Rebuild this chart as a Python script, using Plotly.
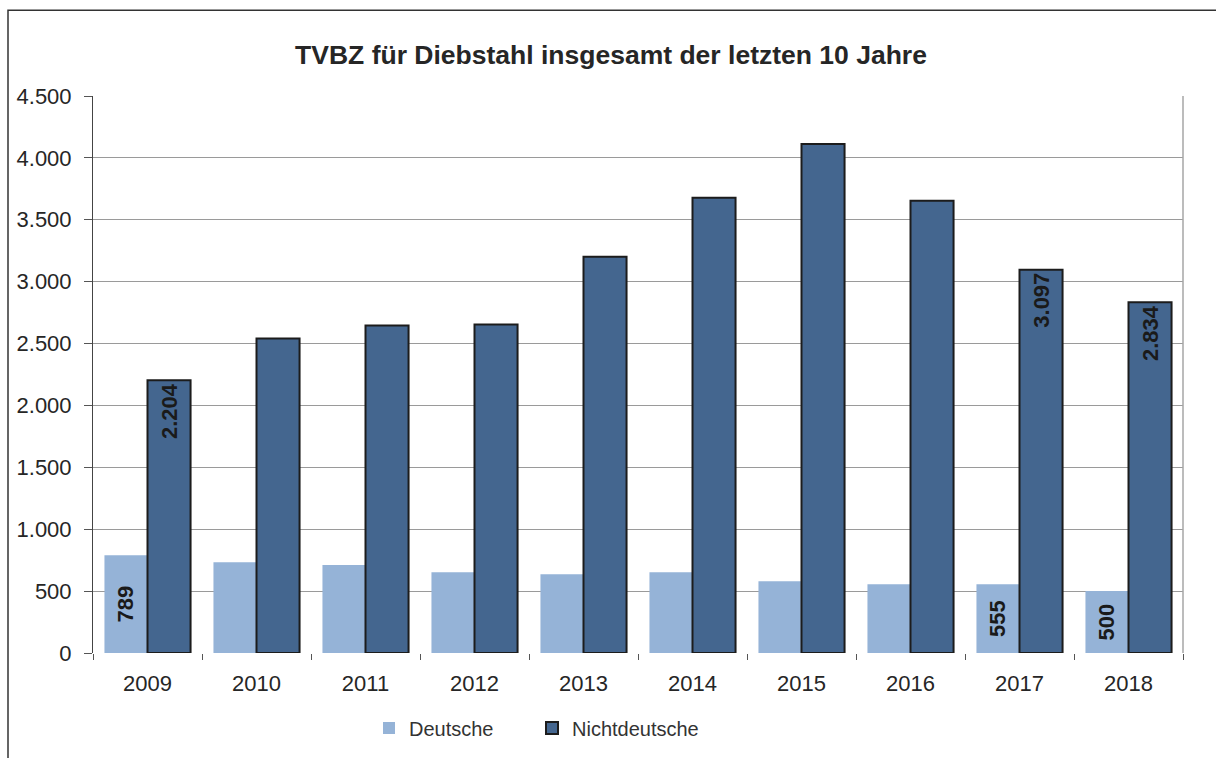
import plotly.graph_objects as go

# Tatverdächtigenbelastungszahl (TVBZ) für Diebstahl, 2009–2018
years = ["2009", "2010", "2011", "2012", "2013", "2014", "2015", "2016", "2017", "2018"]
deutsche = [789, 734, 710, 653, 637, 653, 580, 556, 555, 500]
nichtdeutsche = [2204, 2540, 2645, 2653, 3202, 3677, 4113, 3653, 3097, 2834]

# only some bars carry a value label
labelled_years = {"2009", "2017", "2018"}
y_ticks = [0, 500, 1000, 1500, 2000, 2500, 3000, 3500, 4000, 4500]
y_tick_text = ["0", "500", "1.000", "1.500", "2.000", "2.500", "3.000", "3.500", "4.000", "4.500"]


def de_fmt(v):
    return f"{v:,}".replace(",", ".")


def labels(values):
    return [de_fmt(v) if yr in labelled_years else "" for yr, v in zip(years, values)]


FONT = "Liberation Sans, Arial, sans-serif"

fig = go.Figure()
fig.add_trace(go.Bar(
    x=years, y=deutsche, name="Deutsche", legend="legend",
    marker=dict(color="#95b3d7", line=dict(width=0)),
    text=labels(deutsche), textposition="inside", textangle=-90,
    insidetextanchor="middle",
    textfont=dict(family=FONT, size=22, color="#1a1a1a", weight="bold"),
))
fig.add_trace(go.Bar(
    x=years, y=nichtdeutsche, name="Nichtdeutsche", legend="legend2",
    marker=dict(color="#44668f", line=dict(color="#1c1c1c", width=2)),
    text=labels(nichtdeutsche), textposition="inside", textangle=-90,
    insidetextanchor="end",
    textfont=dict(family=FONT, size=22, color="#1a1a1a", weight="bold"),
))

# outer chart frame
L, R, T, B = 93, 33, 96, 104
W, H = 1216, 758
pw, ph = W - L - R, H - T - B
fig.add_shape(type="rect", xref="paper", yref="paper",
              x0=(8 - L) / pw, x1=(1230 - L) / pw,
              y0=(H - B - 770) / ph, y1=(H - B - 10) / ph,
              line=dict(color="#333333", width=1.5), layer="below")

legend_common = dict(orientation="h", xanchor="left",
                     y=(H - B - 728) / ph, yanchor="middle",
                     font=dict(size=20, color="#333333"),
                     itemwidth=30, bgcolor="rgba(0,0,0,0)")

fig.update_layout(
    width=W, height=H,
    margin=dict(l=L, r=R, t=T, b=B),
    paper_bgcolor="white", plot_bgcolor="white",
    barmode="group", bargap=0.21, bargroupgap=0,
    font=dict(family=FONT, color="#333333"),
    title=dict(text="<b>TVBZ für Diebstahl insgesamt der letzten 10 Jahre</b>",
               x=611 / W, xanchor="center", y=(H - 55) / H, yanchor="middle",
               font=dict(size=26.5, color="#262626")),
    showlegend=True,
    legend=dict(x=(369 - L) / pw, **legend_common),
    legend2=dict(x=(532 - L) / pw, **legend_common),
    uniformtext=dict(minsize=10, mode="show"),
)

fig.update_xaxes(
    type="category", tickson="boundaries", ticks="outside", ticklen=6,
    tickcolor="#555555", showline=False, showgrid=False,
    tickfont=dict(size=22, color="#262626"), mirror=False,
    ticklabelstandoff=15,
)
fig.update_yaxes(
    range=[0, 4500], tickvals=y_ticks, ticktext=y_tick_text,
    ticks="outside", ticklen=8, tickcolor="#555555",
    showline=True, linecolor="#444444", linewidth=1,
    showgrid=True, gridcolor="#9a9a9a", gridwidth=1,
    tickfont=dict(size=22, color="#262626"), zeroline=False,
    ticklabelstandoff=8,
)
# plot area right border
fig.add_shape(type="line", xref="paper", yref="paper", x0=1, x1=1, y0=0, y1=1,
              line=dict(color="#a6a6a6", width=1.5))

fig.write_html("out.html")
